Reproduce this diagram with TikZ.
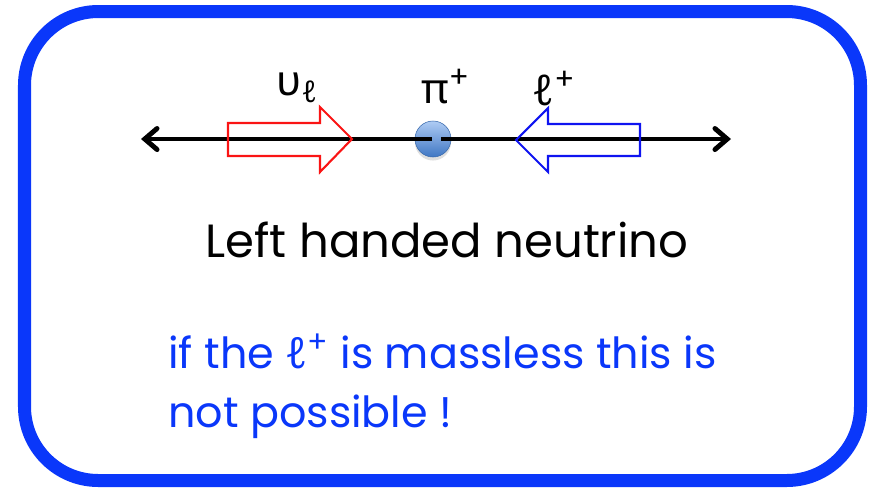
\documentclass[tikz,border=0pt]{standalone}
\usepackage{fontspec}
\setmainfont{Poppins}
\newfontfamily\greekfont{Noto Sans}
\usetikzlibrary{arrows.meta, shadows}
\definecolor{frameblue}{RGB}{10, 55, 250}
\definecolor{pionblue}{RGB}{75, 140, 230}
\definecolor{nured}{RGB}{250, 20, 20}
\definecolor{lepblue}{RGB}{15, 20, 240}

\begin{document}
\begin{tikzpicture}[x=0.02cm, y=-0.02cm,
  frame/.style={draw=frameblue, line width=7.4pt, rounded corners=42pt},
  axis/.style={line width=2.8pt, -{Straight Barb[length=7pt, width=12pt, line cap=round]}},
  hollow/.style={line width=1.2pt, line join=miter},
  plabel/.style={font=\fontsize{24}{28}\selectfont, anchor=base west, inner sep=0pt},
  pionball/.style={circle, minimum size=20.5pt, inner sep=0pt, draw=pionblue!75!black, line width=0.3pt,
    top color=pionblue!45!white, bottom color=pionblue!85!black,
    drop shadow={opacity=0.25, shadow xshift=0pt, shadow yshift=-2pt}}
]
  \useasboundingbox (0,0) rectangle (873,488);
  \draw[frame] (24.5,11.5) rectangle (860.5,480.5);

  % pion at rest, decay products back to back
  \node[pionball] (pion) at (433,139) {};
  \coordinate (gapl) at (432,139);
  \coordinate (gapr) at (441,139);
  \coordinate (lend) at (141,139);
  \coordinate (rend) at (731,139);
  \draw[axis] (gapl) -- (lend);
  \draw[axis] (gapr) -- (rend);

  % spin arrows
  \draw[hollow, draw=nured] (228,123) -- (320,123) -- (320,107) -- (352,139) -- (320,172) -- (320,156) -- (228,156) -- cycle;
  \draw[hollow, draw=lepblue] (640,124) -- (548,124) -- (548,108) -- (516,140) -- (548,172) -- (548,156) -- (640,156) -- cycle;

  \node[plabel] (nulab) at (276,95) {{\greekfont υ}\raisebox{-4.5pt}{\fontsize{17}{19}\greekfont ℓ}};
  \node[plabel] (pilab) at (421,103) {{\greekfont π}\textsuperscript{+}};
  \node[plabel] (leplab) at (532,105) {{\greekfont ℓ}\textsuperscript{+}};

  \node[anchor=base, inner sep=0pt, font=\fontsize{26.5}{32}\selectfont] (hand) at (447,257) {Left handed neutrino};
  \node[anchor=base west, inner sep=0pt, align=left, text=frameblue, font=\fontsize{24.4}{33.5}\selectfont] (note) at (168,427)
    {if the {\greekfont ℓ}\textsuperscript{+} is massless this is\\not possible !};
\end{tikzpicture}
\end{document}
